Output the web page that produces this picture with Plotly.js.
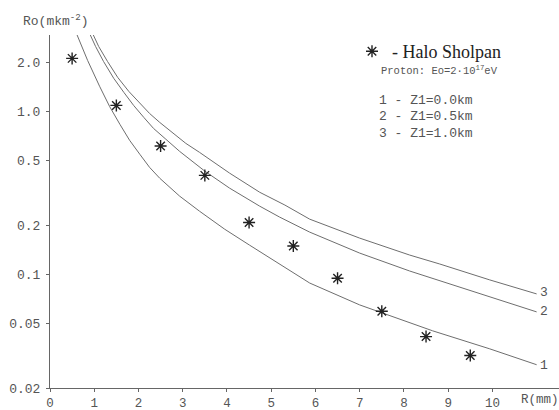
<!DOCTYPE html>
<html>
<head>
<meta charset="utf-8">
<script src="https://cdn.plot.ly/plotly-3.0.1.min.js"></script>
<style>html,body{margin:0;padding:0;background:#fff;}#chart{width:559px;height:410px;}</style>
</head>
<body>
<div id="chart"></div>
<script>
// Measured points: Halo Sholpan
const obsR = [0.5, 1.5, 2.5, 3.5, 4.5, 5.5, 6.5, 7.5, 8.5, 9.5];
const obsRho = [2.12, 1.09, 0.614, 0.405, 0.208, 0.149, 0.0944, 0.0593, 0.0414, 0.0317];

// Curve 1: Z1 = 0.0 km
const c1R = [0.58, 0.85, 1.12, 1.35, 1.58, 1.80, 2.03, 2.25, 2.48, 2.93, 3.38, 3.95, 4.51, 5.19, 5.87, 7.0, 7.90, 8.65, 9.94, 11.0];
const c1Rho = [3.10, 2.06, 1.43, 1.07, 0.834, 0.665, 0.546, 0.454, 0.389, 0.302, 0.244, 0.189, 0.151, 0.1156, 0.0883, 0.0648, 0.0532, 0.0449, 0.0348, 0.0278];

// Curve 2: Z1 = 0.5 km
const c2R = [0.875, 1.03, 1.21, 1.44, 1.67, 1.89, 2.12, 2.34, 2.62, 2.93, 3.50, 4.06, 4.74, 5.19, 5.87, 7.0, 8.13, 8.81, 9.94, 11.0];
const c2Rho = [3.10, 2.51, 2.03, 1.60, 1.31, 1.09, 0.920, 0.787, 0.675, 0.569, 0.430, 0.338, 0.262, 0.2245, 0.1815, 0.1349, 0.1047, 0.0911, 0.0725, 0.0587];

// Curve 3: Z1 = 1.0 km
const c3R = [0.943, 1.10, 1.30, 1.53, 1.78, 2.03, 2.25, 2.48, 2.75, 3.07, 3.38, 4.06, 4.74, 5.31, 5.87, 7.0, 8.13, 8.81, 9.94, 11.0];
const c3Rho = [3.10, 2.51, 2.03, 1.62, 1.33, 1.12, 0.973, 0.857, 0.745, 0.637, 0.561, 0.418, 0.319, 0.266, 0.218, 0.1667, 0.1312, 0.1156, 0.0923, 0.0757];

const yTickVals = [0.02, 0.05, 0.1, 0.2, 0.5, 1.0, 2.0];
const yTickText = ['0.02', '0.05', '0.1', '0.2', '0.5', '1.0', '2.0'];
const xTickVals = [0, 1, 2, 3, 4, 5, 6, 7, 8, 9, 10];
const curveLabels = ['1', '2', '3'];
const zLabels = ['1 - Z1=0.0km', '2 - Z1=0.5km', '3 - Z1=1.0km'];

// layout geometry
const L = 50, T = 35, W = 559, H = 410, B = 22, R = 0;
const PW = W - L - R, PH = H - T - B;
const px = x => (x - L) / PW;
const py = y => (H - B - y) / PH;

const mono = 'Liberation Mono, DejaVu Sans Mono, monospace';
const txtCol = '#555';
const lineCol = '#6e6e6e';

const curveStyle = {color: lineCol, width: 1};
const traces = [
  {x: c1R, y: c1Rho, mode: 'lines', line: curveStyle, showlegend: false, hoverinfo: 'skip'},
  {x: c2R, y: c2Rho, mode: 'lines', line: curveStyle, showlegend: false, hoverinfo: 'skip'},
  {x: c3R, y: c3Rho, mode: 'lines', line: curveStyle, showlegend: false, hoverinfo: 'skip'},
  {x: obsR, y: obsRho, mode: 'markers', name: '- Halo Sholpan', showlegend: true,
   marker: {symbol: 'asterisk-open', size: 10, color: '#222', line: {color: '#222', width: 1.4}}}
];

const ann = [];
function addText(text, x, y, size, xanchor, font) {
  ann.push({text: text, xref: 'paper', yref: 'paper', x: px(x), y: py(y), xanchor: xanchor || 'left',
    yanchor: 'middle', showarrow: false, font: {family: font || mono, size: size, color: txtCol}});
}
addText('Ro(mkm<sup>-2</sup>)', 21, 20, 13);
addText('R(mm)', 519, 400, 12.5);
addText('Proton: Eo=2·10<sup>17</sup>eV', 379, 70, 10.5);
const zY = [100, 116.7, 133.3];
zLabels.forEach((t, i) => addText(t, 377, zY[i], 13));
const labY = [365, 311, 292.7];
curveLabels.forEach((t, i) => addText(t, 543.5, labY[i], 13, 'center'));

const layout = {
  width: W, height: H,
  margin: {l: L, r: R, t: T, b: B, pad: 0},
  paper_bgcolor: '#fff', plot_bgcolor: '#fff',
  showlegend: true,
  legend: {x: px(352), y: py(33), xanchor: 'left', yanchor: 'top', bgcolor: 'rgba(0,0,0,0)',
           font: {family: 'Liberation Serif, Times New Roman, serif', size: 18, color: '#222'}},
  xaxis: {range: [0, PW / 44.24], tickvals: xTickVals, ticktext: xTickVals.map(String),
          showgrid: false, zeroline: false, showline: true, linecolor: '#666', linewidth: 1,
          ticks: 'outside', ticklen: 3, tickcolor: '#666', ticklabelstandoff: 0,
          tickfont: {family: mono, size: 12.5, color: txtCol}},
  yaxis: {type: 'log', range: [Math.log10(0.02), 0.47], tickvals: yTickVals, ticktext: yTickText,
          showgrid: false, zeroline: false, showline: true, linecolor: '#666', linewidth: 1,
          ticks: 'outside', ticklen: 3, tickcolor: '#666', ticklabelstandoff: 3,
          tickfont: {family: mono, size: 13, color: txtCol}},
  annotations: ann
};

Plotly.newPlot('chart', traces, layout, {staticPlot: true, displayModeBar: false});
</script>
</body>
</html>
